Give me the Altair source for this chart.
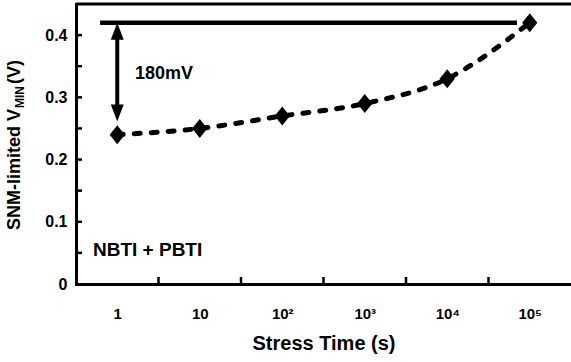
import altair as alt
import pandas as pd

# ---- data ----
stress_time = [1, 10, 100, 1000, 10000, 100000]
vmin = [0.24, 0.25, 0.27, 0.29, 0.33, 0.42]

x_label_values = [1, 10, 100, 1000, 10000, 100000]
x_label_text = ["1", "10", "10²", "10³", "10⁴", "10⁵"]
x_minor_ticks = [3.1623, 31.623, 316.23, 3162.3, 31623.0]
x_domain = [0.31623, 316228.0]

y_label_values = [0, 0.1, 0.2, 0.3, 0.4]
y_label_text = ["0", "0.1", "0.2", "0.3", "0.4"]
y_minor_ticks = [0.05, 0.1, 0.15, 0.2, 0.25, 0.3, 0.35, 0.4]
y_domain = [0, 0.45]

target_v = 0.42
target_x_start = 0.62
target_x_end = 70000
arrow_x = 1
arrow_top = 0.42
arrow_bottom = 0.261
head_len = 0.0274

delta_text = "180mV"
delta_pos = (1.64, 0.338)
legend_text = "NBTI + PBTI"
legend_pos = (0.508, 0.055)

x_title = "Stress Time (s)"
y_title_parts = ["SNM-limited V", "MIN", "(V)"]

FONT = "Liberation Sans"
W, H = 495, 280

df = pd.DataFrame({"t": stress_time, "v": vmin})


def label_expr(vals, texts):
    expr = "''"
    for v, t in reversed(list(zip(vals, texts))):
        expr = f"abs(datum.value - {v}) < {v} * 0.001 + 0.0001 ? '{t}' : ({expr})"
    return expr


xs = alt.Scale(type="log", domain=x_domain, nice=False)
ys = alt.Scale(domain=y_domain, nice=False, zero=False)

x_axis = alt.Axis(values=x_label_values, labelExpr=label_expr(x_label_values, x_label_text),
                  ticks=False, grid=False, domainColor="black", domainWidth=3,
                  labelPadding=22, labelFontSize=15, labelFontWeight="bold", labelFont=FONT,
                  labelColor="black", labelFlush=False, labelOverlap=False,
                  title=x_title, titleFont=FONT, titleFontSize=20,
                  titleFontWeight="bold", titleColor="black", titlePadding=12)
y_axis = alt.Axis(values=y_label_values, labelExpr=label_expr(y_label_values, y_label_text),
                  ticks=False, grid=False, domainColor="black", domainWidth=3,
                  labelPadding=9, labelFontSize=16, labelFontWeight="bold", labelFont=FONT,
                  labelColor="black", labelFlush=False, labelOverlap=False, title=None)


def X(field):
    return alt.X(field, scale=xs, axis=x_axis)


def Y(field):
    return alt.Y(field, scale=ys, axis=y_axis)


line = alt.Chart(df).mark_line(color="black", strokeWidth=5, strokeDash=[6, 11],
                               strokeCap="round", interpolate="monotone").encode(
    x=X("t:Q"), y=Y("v:Q"))
points = alt.Chart(df).mark_point(shape="M-0.8,0L0,-1L0.8,0L0,1Z", filled=True, color="black",
                                  opacity=1, size=361).encode(x=X("t:Q"), y=Y("v:Q"))

target = alt.Chart(pd.DataFrame({"t": [target_x_start], "t2": [target_x_end], "v": [target_v]})).mark_rule(
    color="black", strokeWidth=4.5).encode(x=X("t:Q"), x2="t2:Q", y=Y("v:Q"))

shaft = alt.Chart(pd.DataFrame({"t": [arrow_x], "v": [arrow_top - head_len / 2],
                                "v2": [arrow_bottom + head_len / 2]})).mark_rule(
    color="black", strokeWidth=4).encode(x=X("t:Q"), y=Y("v:Q"), y2="v2:Q")
head_up = alt.Chart(pd.DataFrame({"t": [arrow_x], "v": [arrow_top - head_len / 2]})).mark_point(
    shape="M0,-1L0.76,1L-0.76,1Z", filled=True, color="black", opacity=1, size=289).encode(
    x=X("t:Q"), y=Y("v:Q"))
head_down = alt.Chart(pd.DataFrame({"t": [arrow_x], "v": [arrow_bottom + head_len / 2]})).mark_point(
    shape="M0,1L0.76,-1L-0.76,-1Z", filled=True, color="black", opacity=1, size=289).encode(
    x=X("t:Q"), y=Y("v:Q"))

txt_delta = alt.Chart(pd.DataFrame({"t": [delta_pos[0]], "v": [delta_pos[1]], "s": [delta_text]})).mark_text(
    align="left", baseline="middle", font=FONT, fontSize=18, fontWeight="bold", color="black").encode(
    x=X("t:Q"), y=Y("v:Q"), text="s:N")
txt_legend = alt.Chart(pd.DataFrame({"t": [legend_pos[0]], "v": [legend_pos[1]], "s": [legend_text]})).mark_text(
    align="left", baseline="middle", font=FONT, fontSize=19, fontWeight="bold", color="black").encode(
    x=X("t:Q"), y=Y("v:Q"), text="s:N")

x_ticks = alt.Chart(pd.DataFrame({"t": x_minor_ticks})).mark_rule(color="black", strokeWidth=2.5).encode(
    x=X("t:Q"), y=alt.value(H), y2=alt.value(H - 7))
y_ticks = alt.Chart(pd.DataFrame({"v": y_minor_ticks})).mark_rule(color="black", strokeWidth=2.5).encode(
    y=Y("v:Q"), x=alt.value(0), x2=alt.value(6))
top_border = alt.Chart(pd.DataFrame({"a": [0]})).mark_rule(color="black", strokeWidth=3).encode(
    x=alt.value(0), x2=alt.value(W), y=alt.value(0))

title_pos = [(-61, 226, 18), (-56, 104, 12), (-61, 80, 18)]
ytitle_layers = []
for s, (px, py, fs) in zip(y_title_parts, title_pos):
    ytitle_layers.append(
        alt.Chart(pd.DataFrame({"s": [s]})).mark_text(
            angle=270, align="left", baseline="middle", font=FONT, fontSize=fs,
            fontWeight="bold", color="black").encode(
            x=alt.value(px), y=alt.value(py), text="s:N"))

chart = alt.layer(line, points, target, shaft, head_up, head_down, txt_delta, txt_legend,
                  x_ticks, y_ticks, top_border, *ytitle_layers).properties(
    width=W, height=H,
    autosize=alt.AutoSizeParams(type="none"),
    padding={"left": 76, "top": 4, "right": 0, "bottom": 78},
).configure_view(strokeWidth=0).configure_axis(domainCap="square")

chart.save("out.html", embed_options={"renderer": "svg", "actions": False})
